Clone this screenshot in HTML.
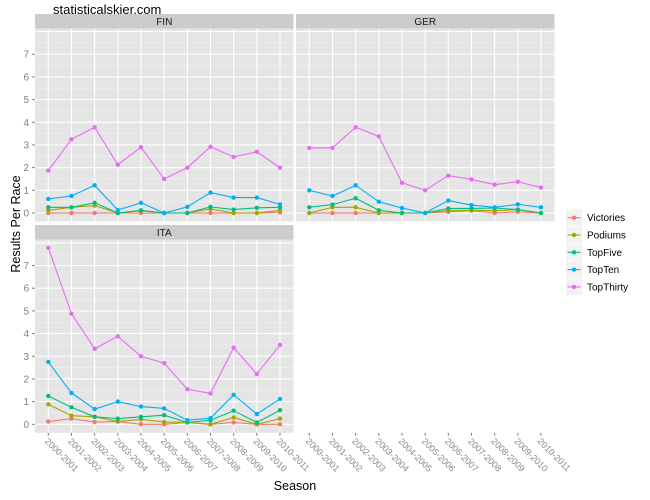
<!DOCTYPE html>
<html><head><meta charset="utf-8"><style>body{margin:0;background:#fff}svg{display:block}</style></head><body>
<svg id="s" width="650" height="500" xmlns="http://www.w3.org/2000/svg" font-family="Liberation Sans, sans-serif"></svg>
<script>
const C=["#F8766D","#A3A500","#00BF7D","#00B0F6","#E76BF3"];
const N=["Victories","Podiums","TopFive","TopTen","TopThirty"];
const D={
FIN:[[0,0,0,0,0,0,0,0,0,0,0.03],[0.12,0.25,0.33,0,0.1,0,0,0.18,0,0,0.12],[0.25,0.25,0.45,0,0.12,0,0,0.27,0.15,0.23,0.25],[0.62,0.75,1.22,0.13,0.45,0,0.27,0.9,0.68,0.68,0.38],[1.87,3.25,3.78,2.13,2.9,1.5,2.0,2.92,2.47,2.7,2.0]],
GER:[[0,0,0,0,0,0,0.05,0.1,0,0.05,0],[0,0.25,0.25,0,0,0,0.1,0.12,0.1,0.15,0],[0.25,0.37,0.65,0.12,0,0,0.2,0.2,0.22,0.15,0],[1.0,0.75,1.22,0.5,0.22,0,0.55,0.35,0.25,0.38,0.25],[2.87,2.87,3.78,3.38,1.33,1.0,1.65,1.48,1.25,1.38,1.12]],
ITA:[[0.12,0.25,0.1,0.12,0,0,0.08,0,0.08,0,0],[0.88,0.38,0.33,0.12,0.22,0.1,0.08,0,0.3,0,0.25],[1.25,0.75,0.33,0.25,0.33,0.4,0.08,0.18,0.6,0.08,0.62],[2.75,1.38,0.67,1.0,0.78,0.7,0.18,0.27,1.3,0.45,1.12],[7.78,4.88,3.33,3.88,3.0,2.7,1.55,1.36,3.38,2.22,3.5]]};
let h='';
const step=23.17,ys=22.68;
function panel(name,x0,top,zero){
 const x1=x0+258.5,bot=zero+8.5;
 h+=`<rect x="${x0}" y="${top-14.5}" width="${x1-x0}" height="14.5" fill="#CCCCCC"/>`;
 h+=`<text x="${(x0+x1)/2}" y="${top-3.5}" font-size="10" text-anchor="middle" fill="#1a1a1a">${name}</text>`;
 h+=`<rect x="${x0}" y="${top}" width="${x1-x0}" height="${bot-top}" fill="#E5E5E5"/>`;
 for(let v=-0.5;v<8.2;v+=0.5){const y=zero-v*ys;if(y<top||y>bot)continue;
  h+=`<line x1="${x0}" x2="${x1}" y1="${y}" y2="${y}" stroke="${v%1?'#F2F2F2':'#fff'}" stroke-width="${v%1?0.6:1.1}"/>`;}
 for(let i=0;i<11;i++){const x=x0+13.3+i*step;h+=`<line x1="${x}" x2="${x}" y1="${top}" y2="${bot}" stroke="#fff" stroke-width="1.1"/>`;}
 D[name].forEach((s,k)=>{const pts=s.map((v,i)=>[x0+13.3+i*step,zero-v*ys]);
  h+=`<polyline fill="none" stroke="${C[k]}" stroke-width="1.1" points="${pts.map(p=>p.join(',')).join(' ')}"/>`;
  pts.forEach(p=>h+=`<circle cx="${p[0]}" cy="${p[1]}" r="2.2" fill="${C[k]}"/>`);});
 return bot;
}
function yaxis(x0,zero){for(let v=0;v<8;v++){const y=zero-v*ys;
 h+=`<line x1="${x0-3}" x2="${x0}" y1="${y}" y2="${y}" stroke="#7f7f7f"/>`;
 h+=`<text x="${x0-6}" y="${y+3.5}" font-size="10" text-anchor="end" fill="#7f7f7f">${v}</text>`;}}
function xaxis(x0,bot){for(let i=0;i<11;i++){const x=x0+13.3+i*step;
 h+=`<line x1="${x}" x2="${x}" y1="${bot}" y2="${bot+3}" stroke="#7f7f7f"/>`;
 h+=`<text transform="translate(${x-4},${bot+9}) rotate(45)" font-size="9" fill="#8a8a8a">${2000+i}-${2001+i}</text>`;}}
panel("FIN",35,28.5,213);yaxis(35,213);
panel("GER",296,28.5,213);
const ib=panel("ITA",35,239.5,424.3);yaxis(35,424.3);xaxis(35,ib);xaxis(296,ib);
h+=`<text x="53" y="14" font-size="13" fill="#000">statisticalskier.com</text>`;
h+=`<text transform="translate(20,224) rotate(-90)" font-size="12.5" text-anchor="middle" fill="#000">Results Per Race</text>`;
h+=`<text x="295" y="490" font-size="12.5" text-anchor="middle" fill="#000">Season</text>`;
N.forEach((n,k)=>{const y=217.7+k*17.3;
 h+=`<rect x="566" y="${y-8.3}" width="16.5" height="16.5" fill="#F2F2F2"/>`;
 h+=`<line x1="567.5" x2="580.5" y1="${y}" y2="${y}" stroke="${C[k]}" stroke-width="1.1"/>`;
 h+=`<circle cx="574" cy="${y}" r="2.2" fill="${C[k]}"/>`;
 h+=`<text x="587" y="${y+3.5}" font-size="10" fill="#000">${n}</text>`;});
document.getElementById('s').innerHTML=h;
</script>
</body></html>
